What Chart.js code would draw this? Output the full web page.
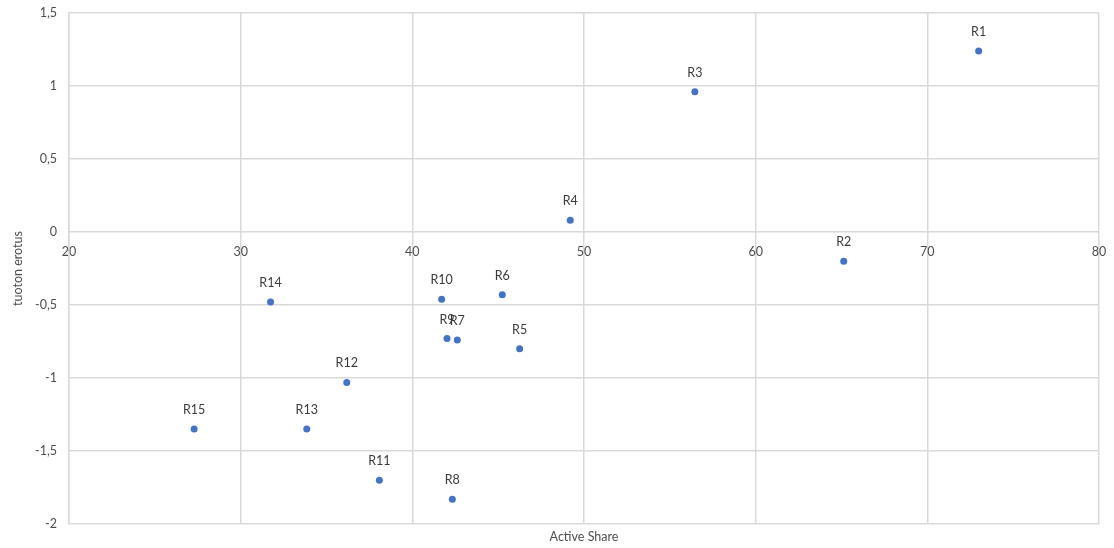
<!DOCTYPE html>
<html>
<head>
<meta charset="utf-8">
<title>Active Share ja tuoton erotus</title>
<script src="https://cdn.jsdelivr.net/npm/chart.js@4.4.1/dist/chart.umd.min.js"></script>
<style>
  html, body { margin: 0; padding: 0; background: #ffffff; }
  #wrap { width: 1114px; height: 548px; position: relative; }
</style>
</head>
<body>
<div id="wrap"><canvas id="chart"></canvas></div>
<script>
// Fund names, active share (%) and return difference for each fund
const fundNames = ['R1', 'R2', 'R3', 'R4', 'R5', 'R6', 'R7', 'R8', 'R9', 'R10', 'R11', 'R12', 'R13', 'R14', 'R15'];
const activeShare = [72.99, 65.13, 56.46, 49.20, 46.25, 45.24, 42.62, 42.33, 42.02, 41.71, 38.08, 36.18, 33.85, 31.74, 27.29];
const returnDiff = [1.24, -0.20, 0.96, 0.08, -0.80, -0.43, -0.74, -1.83, -0.73, -0.46, -1.70, -1.03, -1.35, -0.48, -1.35];

// Axis ranges
const xMin = 20, xMax = 80, xStep = 10;
const yMin = -2, yMax = 1.5, yStep = 0.5;

const FONT = 'Lato, "Open Sans", sans-serif';
const GRID = '#d9d9d9';
const TICK_COLOR = '#4d4d4d';

const points = activeShare.map((x, i) => ({ x: x, y: returnDiff[i] }));

// Writes each fund name just above its marker
const pointNamePlugin = {
  id: 'pointNames',
  afterDatasetsDraw(chart) {
    const ctx = chart.ctx;
    const meta = chart.getDatasetMeta(0);
    ctx.save();
    ctx.font = '12.5px ' + FONT;
    ctx.fillStyle = '#3a3a3a';
    ctx.textAlign = 'center';
    ctx.textBaseline = 'middle';
    meta.data.forEach((el, i) => {
      ctx.fillText(fundNames[i], el.x, el.y - 19);
    });
    ctx.restore();
  }
};

const commaDecimal = v => String(Math.round(v * 10) / 10).replace('.', ',');

new Chart(document.getElementById('chart'), {
  type: 'scatter',
  data: {
    datasets: [{
      data: points,
      backgroundColor: '#4472c4',
      borderColor: '#4472c4',
      pointRadius: 3.5,
      pointHoverRadius: 3.5,
      borderWidth: 0
    }]
  },
  options: {
    responsive: true,
    maintainAspectRatio: false,
    animation: false,
    layout: { padding: { top: 13, right: 15, left: 0, bottom: 0 } },
    plugins: {
      legend: { display: false },
      tooltip: { enabled: false }
    },
    scales: {
      x: {
        type: 'linear',
        position: { y: 0 },
        min: xMin,
        max: xMax,
        ticks: {
          stepSize: xStep,
          padding: 0,
          color: TICK_COLOR,
          font: { family: FONT, size: 12.5 },
          maxRotation: 0
        },
        grid: { color: GRID, lineWidth: 1.5, drawTicks: true, tickLength: 12, tickColor: 'rgba(0,0,0,0)' },
        border: { display: false }
      },
      xTitle: {
        type: 'linear',
        position: 'bottom',
        axis: 'x',
        min: xMin,
        max: xMax,
        ticks: { display: false },
        grid: { display: false, drawTicks: false },
        border: { display: false },
        title: {
          display: true,
          text: 'Active Share',
          color: TICK_COLOR,
          font: { family: FONT, size: 12.5 },
          padding: { top: 4, bottom: 4 }
        },
        afterFit(scale) { scale.height = 24; }
      },
      y: {
        type: 'linear',
        position: 'left',
        min: yMin,
        max: yMax,
        ticks: {
          stepSize: yStep,
          padding: 0,
          color: TICK_COLOR,
          font: { family: FONT, size: 12.5 },
          callback: v => commaDecimal(v)
        },
        grid: { color: GRID, lineWidth: 1.5, drawTicks: true, tickLength: 12, tickColor: 'rgba(0,0,0,0)' },
        border: { color: GRID, width: 1.5 },
        title: {
          display: true,
          text: 'tuoton erotus',
          color: TICK_COLOR,
          font: { family: FONT, size: 12.5 },
          padding: { top: 10, bottom: 4 }
        },
        afterFit(scale) { scale.width = 69; }
      }
    }
  },
  plugins: [pointNamePlugin]
});
</script>
</body>
</html>
